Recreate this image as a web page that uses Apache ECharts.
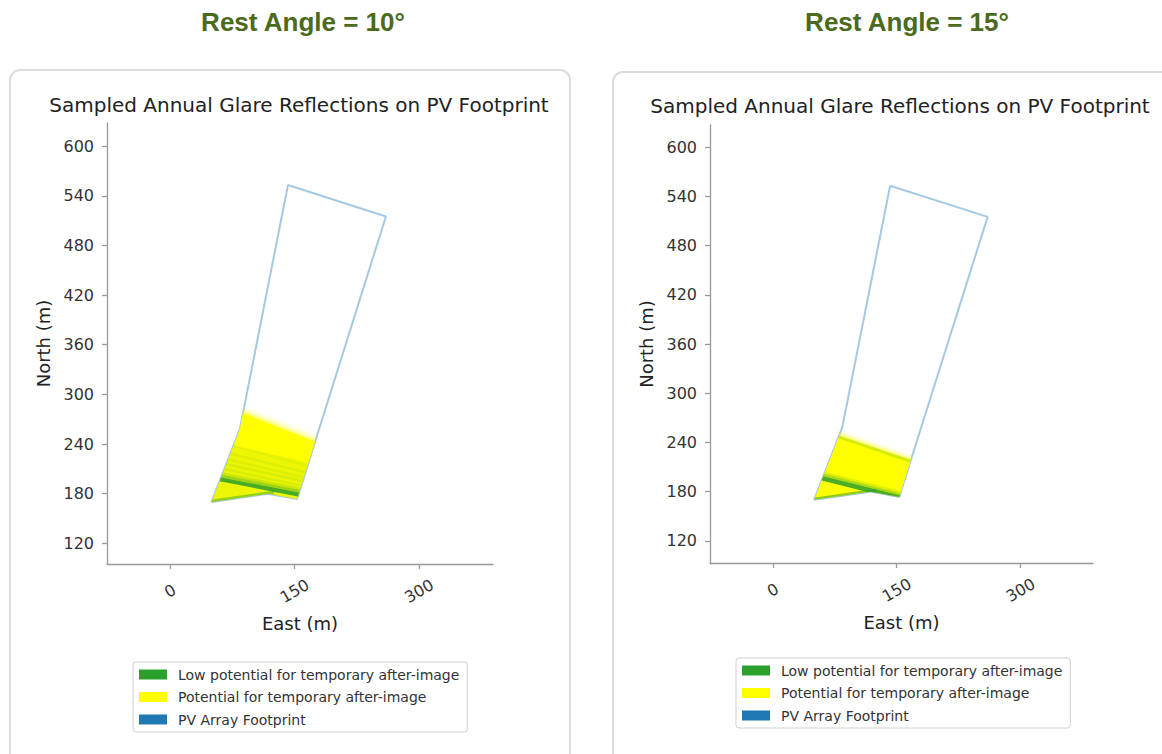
<!DOCTYPE html>
<html>
<head>
<meta charset="utf-8">
<title>Sampled Annual Glare Reflections on PV Footprint</title>
<script src="https://cdn.jsdelivr.net/npm/echarts@6/dist/echarts.min.js"></script>
<style>
  html, body { margin: 0; padding: 0; background: #fff; }
  #chart { width: 1162px; height: 754px; }
</style>
</head>
<body>
<div id="chart"></div>
<script>
// Axis ticks (metres)
const eastTicks = [0, 150, 300];
const northTicks = [120, 180, 240, 300, 360, 420, 480, 540, 600];

// PV array footprint outline (East, North in metres)
const footprintEast = [142, 260, 153, 118, 50, 84];
const footprintNorth = [553, 515, 173.5, 180, 170, 258];

// Glare reflection bands: [eastFrom, northLowFrom, northHighFrom, eastTo, northLowTo, northHighTo, opacity]
// Each band is clipped to the footprint before drawing.
const glareYellow10 = [
  [0, 100, 313.0, 300, 100, 192.7, 1],
  [0, 313.0, 315.5, 300, 192.7, 195.2, 0.5],
  [0, 315.5, 318.0, 300, 195.2, 197.7, 0.28],
  [0, 318.0, 320.5, 300, 197.7, 200.2, 0.14],
  [0, 320.5, 323.0, 300, 200.2, 202.7, 0.06]
];
const glareGreen10 = [
  [0, 100, 255, 300, 100, 188, 0.09],
  [0, 206.7, 211.7, 300, 148, 153, 0.85],
  [0, 211.7, 215.0, 300, 153, 156.3, 0.4],
  [0, 215.0, 218.0, 300, 156.3, 159.3, 0.18],
  [0, 222, 225, 300, 158, 161, 0.1],
  [0, 229, 232, 300, 163, 166, 0.1],
  [0, 236, 239, 300, 166, 169, 0.08],
  [0, 245, 248, 300, 170, 173, 0.07],
  [0, 258, 261, 300, 174, 177, 0.05],
  [45, 167.5, 172, 125, 179, 183.5, 0.45]
];
const glareYellow15 = [
  [0, 100, 276.2, 300, 100, 173.1, 1],
  [0, 276.2, 278.7, 300, 173.1, 175.6, 0.45],
  [0, 278.7, 281.2, 300, 175.6, 178.1, 0.2],
  [0, 281.2, 283.7, 300, 178.1, 180.6, 0.07]
];
const glareGreen15 = [
  [0, 208.3, 214.3, 300, 132.8, 138.8, 0.85],
  [0, 214.3, 217.0, 300, 138.8, 141.5, 0.4],
  [0, 217.0, 219.7, 300, 141.5, 144.2, 0.16],
  [0, 272.2, 276.2, 300, 169.1, 173.1, 0.2],
  [45, 167.5, 172, 125, 179, 183.5, 0.55]
];

const NAME_LOW = 'Low potential for temporary after-image';
const NAME_POT = 'Potential for temporary after-image';
const NAME_PV = 'PV Array Footprint';

const GREEN = '#2ca02c';
const YELLOW = '#ffff00';
const BLUE = '#1f77b4';
const OUTLINE = '#a5c9e1';
const FONT = '"DejaVu Sans", sans-serif';

const footprint = footprintEast.map((e, i) => [e, footprintNorth[i]]);
const footprintClosed = footprint.concat([footprint[0]]);

// Sutherland-Hodgman: clip the footprint polygon against a convex band quad
function clipToBand(subject, quad) {
  let out = subject;
  for (let i = 0; i < quad.length && out.length; i++) {
    const a = quad[i], b = quad[(i + 1) % quad.length];
    const side = p => (b[0] - a[0]) * (p[1] - a[1]) - (b[1] - a[1]) * (p[0] - a[0]);
    const cross = (p, q) => {
      const d1 = side(p), d2 = side(q), t = d1 / (d1 - d2);
      return [p[0] + (q[0] - p[0]) * t, p[1] + (q[1] - p[1]) * t];
    };
    const input = out;
    out = [];
    for (let j = 0; j < input.length; j++) {
      const cur = input[j], prev = input[(j + input.length - 1) % input.length];
      const cIn = side(cur) >= 0, pIn = side(prev) >= 0;
      if (cIn) {
        if (!pIn) out.push(cross(prev, cur));
        out.push(cur);
      } else if (pIn) {
        out.push(cross(prev, cur));
      }
    }
  }
  return out;
}

function glareSeries(name, color, bands, idx, z) {
  return {
    name: name,
    type: 'custom',
    xAxisIndex: idx,
    yAxisIndex: idx,
    z: z,
    silent: true,
    itemStyle: { color: color },
    encode: { x: 0, y: 1 },
    data: bands,
    renderItem: function (params, api) {
      const e0 = api.value(0), l0 = api.value(1), h0 = api.value(2);
      const e1 = api.value(3), l1 = api.value(4), h1 = api.value(5);
      const op = api.value(6);
      const quad = [[e0, l0], [e1, l1], [e1, h1], [e0, h0]];
      const poly = clipToBand(footprint, quad);
      if (poly.length < 3) return null;
      return {
        type: 'polygon',
        shape: { points: poly.map(p => api.coord(p)) },
        style: { fill: color, opacity: op, stroke: null }
      };
    }
  };
}

function footprintSeries(idx) {
  return {
    name: NAME_PV,
    type: 'line',
    xAxisIndex: idx,
    yAxisIndex: idx,
    z: 2,
    symbol: 'none',
    silent: true,
    itemStyle: { color: BLUE },
    lineStyle: { color: OUTLINE, width: 2 },
    data: footprintClosed
  };
}

function xAxisOf(idx, min, max) {
  return {
    type: 'value', gridIndex: idx, min: min, max: max,
    name: 'East (m)', nameLocation: 'middle', nameGap: 50,
    nameTextStyle: { fontSize: 18, color: '#222', fontFamily: FONT },
    axisLine: { show: true, onZero: false, lineStyle: { color: '#999', width: 1.3 } },
    axisTick: { show: true, customValues: eastTicks, length: 5, lineStyle: { color: '#999', width: 1.3 } },
    axisLabel: {
      customValues: eastTicks, rotate: 30, align: 'center', verticalAlign: 'middle',
      margin: 27, fontSize: 16, color: '#333', fontFamily: FONT
    },
    splitLine: { show: false }
  };
}

function yAxisOf(idx, min, max) {
  return {
    type: 'value', gridIndex: idx, min: min, max: max,
    name: 'North (m)', nameLocation: 'middle', nameGap: 55, nameRotate: 90,
    nameTextStyle: { fontSize: 18, color: '#222', fontFamily: FONT },
    axisLine: { show: true, onZero: false, lineStyle: { color: '#999', width: 1.3 } },
    axisTick: { show: true, customValues: northTicks, length: 5, lineStyle: { color: '#999', width: 1.3 } },
    axisLabel: { customValues: northTicks, margin: 13, fontSize: 16, color: '#333', fontFamily: FONT },
    splitLine: { show: false }
  };
}

function legendOf(left, top) {
  return {
    left: left, top: top, orient: 'vertical',
    padding: [5, 8, 5, 6], itemGap: 7.5,
    itemWidth: 28, itemHeight: 10, icon: 'rect',
    borderColor: '#d0d0d0', borderWidth: 1, borderRadius: 3,
    selectedMode: false,
    textStyle: { fontSize: 14, color: '#333', fontFamily: FONT, lineHeight: 15, padding: [0, 0, 0, 6] },
    data: [
      { name: NAME_LOW, itemStyle: { color: GREEN, opacity: 1 } },
      { name: NAME_POT, itemStyle: { color: YELLOW, opacity: 1 } },
      { name: NAME_PV, itemStyle: { color: BLUE, opacity: 1 }, lineStyle: { width: 0, opacity: 0 } }
    ]
  };
}

function textEl(text, x, y, font, fill) {
  return {
    type: 'text', x: x, y: y, z: 10,
    style: { text: text, align: 'center', verticalAlign: 'middle', font: font, fill: fill }
  };
}

const chart = echarts.init(document.getElementById('chart'), null, { renderer: 'svg' });
chart.setOption({
  animation: false,
  backgroundColor: '#fff',
  graphic: [
    { type: 'rect', z: -10, shape: { x: 10, y: 70, width: 560, height: 700, r: 10 },
      style: { fill: '#fff', stroke: '#dcdcdc', lineWidth: 2 } },
    { type: 'rect', z: -10, shape: { x: 613, y: 72, width: 570, height: 700, r: 10 },
      style: { fill: '#fff', stroke: '#dcdcdc', lineWidth: 2 } },
    textEl('Rest Angle = 10°', 303, 22, 'bold 26px "Liberation Sans", Arial, sans-serif', '#4b6a1c'),
    textEl('Rest Angle = 15°', 907, 22, 'bold 26px "Liberation Sans", Arial, sans-serif', '#4b6a1c'),
    textEl('Sampled Annual Glare Reflections on PV Footprint', 299, 105, '20px ' + FONT, '#222'),
    textEl('Sampled Annual Glare Reflections on PV Footprint', 900, 106, '20px ' + FONT, '#222')
  ],
  grid: [
    { left: 107, top: 123, width: 386, height: 441 },
    { left: 710, top: 125, width: 383, height: 438 }
  ],
  xAxis: [xAxisOf(0, -76, 389), xAxisOf(1, -76, 387.5)],
  yAxis: [yAxisOf(0, 95, 628), yAxisOf(1, 93, 627)],
  legend: [legendOf(133, 662), legendOf(736, 658)],
  series: [
    footprintSeries(0),
    glareSeries(NAME_POT, YELLOW, glareYellow10, 0, 3),
    glareSeries(NAME_LOW, GREEN, glareGreen10, 0, 4),
    footprintSeries(1),
    glareSeries(NAME_POT, YELLOW, glareYellow15, 1, 3),
    glareSeries(NAME_LOW, GREEN, glareGreen15, 1, 4)
  ]
});
</script>
</body>
</html>
